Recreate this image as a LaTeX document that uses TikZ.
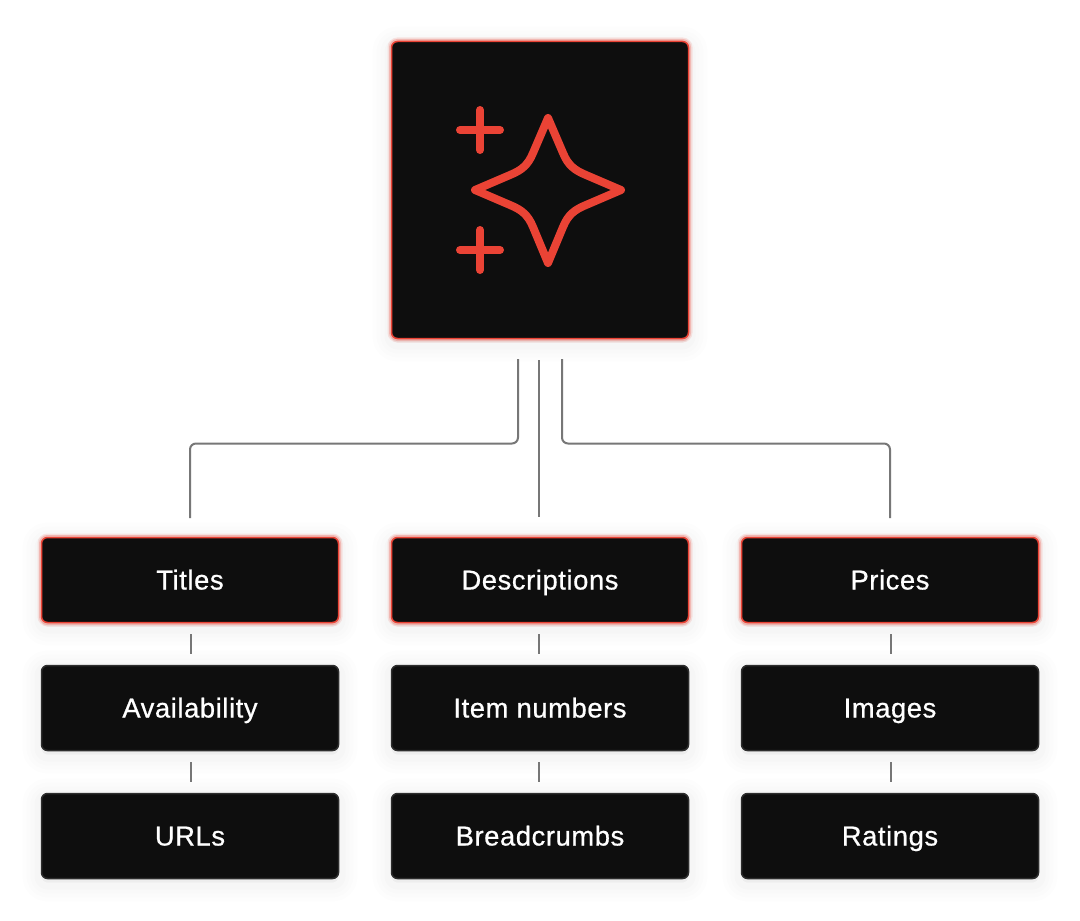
\documentclass[tikz,border=0pt]{standalone}
\usepackage{fontspec}
\setmainfont{Liberation Sans}[LetterSpace=2.2,FakeBold=0.7]
\usetikzlibrary{calc}
\definecolor{boxfill}{HTML}{0E0E0E}
\definecolor{accent}{HTML}{EA4335}
\definecolor{quiet}{HTML}{2E2E2E}
\definecolor{wire}{HTML}{777777}
\tikzset{
  x=0.75pt,y=-0.75pt,
  softshadow/.style={
    preaction={draw=black,fill=black,line width=38*0.75pt,line join=round,draw opacity=.006,fill opacity=.006,transform canvas={yshift=-3pt}},
    preaction={draw=black,fill=black,line width=30*0.75pt,line join=round,draw opacity=.007,fill opacity=.007,transform canvas={yshift=-3pt}},
    preaction={draw=black,fill=black,line width=22*0.75pt,line join=round,draw opacity=.009,fill opacity=.009,transform canvas={yshift=-3pt}},
    preaction={draw=black,fill=black,line width=14*0.75pt,line join=round,draw opacity=.012,fill opacity=.012,transform canvas={yshift=-3pt}}},
  redglow/.style={
    preaction={draw=accent,line width=8*0.75pt,draw opacity=.12},
    preaction={draw=accent,line width=5*0.75pt,draw opacity=.25}},
  basebox/.style={rectangle,rounded corners=6*0.75pt,fill=boxfill,minimum width=297*0.75pt,
    inner sep=0pt,text=white,font=\fontsize{20.5}{24}\selectfont,line width=1.5*0.75pt,
    text height=19*0.75pt,text depth=0pt},
  plainbox/.style={basebox,softshadow,draw=quiet,minimum height=85*0.75pt},
  hotbox/.style={basebox,softshadow,redglow,draw=accent,minimum height=85*0.75pt},
  herobox/.style={basebox,softshadow,redglow,draw=accent,minimum height=297*0.75pt},
  wireline/.style={draw=wire,line width=2*0.75pt},
  iconline/.style={draw=accent,line width=8*0.75pt,line cap=round,line join=round},
}
\begin{document}
\begin{tikzpicture}
\useasboundingbox (0,0) rectangle (1080,920);
\fill[white] (0,0) rectangle (1080,920);
\node[herobox] (hero) at (540,190) {};
\node[hotbox] (titles) at (190,580) {Titles};
\node[hotbox] (desc) at (540,580) {Descriptions};
\node[hotbox] (prices) at (890,580) {Prices};
\node[plainbox] (avail) at (190,708) {Availability};
\node[plainbox] (items) at (540,708) {Item numbers};
\node[plainbox] (images) at (890,708) {Images};
\node[plainbox] (urls) at (190,836) {URLs};
\node[plainbox] (crumbs) at (540,836) {Breadcrumbs};
\node[plainbox] (ratings) at (890,836) {Ratings};
% icon
\draw[iconline] (460,130) -- (500,130) (480,110) -- (480,150);
\draw[iconline] (460,250) -- (500,250) (480,230) -- (480,270);
\draw[iconline] (548,118)
  -- (533,153) .. controls (528,165) and (522,170) .. (510,175)
  -- (475,190)
  -- (510,205) .. controls (522,210) and (528,215) .. (533,227)
  -- (548,263)
  -- (563,227) .. controls (568,215) and (574,210) .. (586,205)
  -- (621,190)
  -- (586,175) .. controls (574,170) and (568,165) .. (563,153)
  -- cycle;
% connector ends
\coordinate (hl) at (518,359);
\coordinate (hm) at (539,360);
\coordinate (hr) at (562,359);
\coordinate (tl) at (190,518);
\coordinate (tm) at (539,517);
\coordinate (tr) at (890,518);
\draw[wireline,rounded corners=6*0.75pt] (hl) |- (190,443.5) -- (tl);
\draw[wireline] (hm) -- (tm);
\draw[wireline,rounded corners=6*0.75pt] (hr) |- (890,443.5) -- (tr);
\foreach \nm/\cx in {a/191,b/539,c/891}{
  \coordinate (u\nm) at (\cx,634);
  \coordinate (v\nm) at (\cx,654);
  \coordinate (p\nm) at (\cx,762);
  \coordinate (q\nm) at (\cx,782);
  \draw[wireline] (u\nm) -- (v\nm);
  \draw[wireline] (p\nm) -- (q\nm);
}
\end{tikzpicture}
\end{document}
